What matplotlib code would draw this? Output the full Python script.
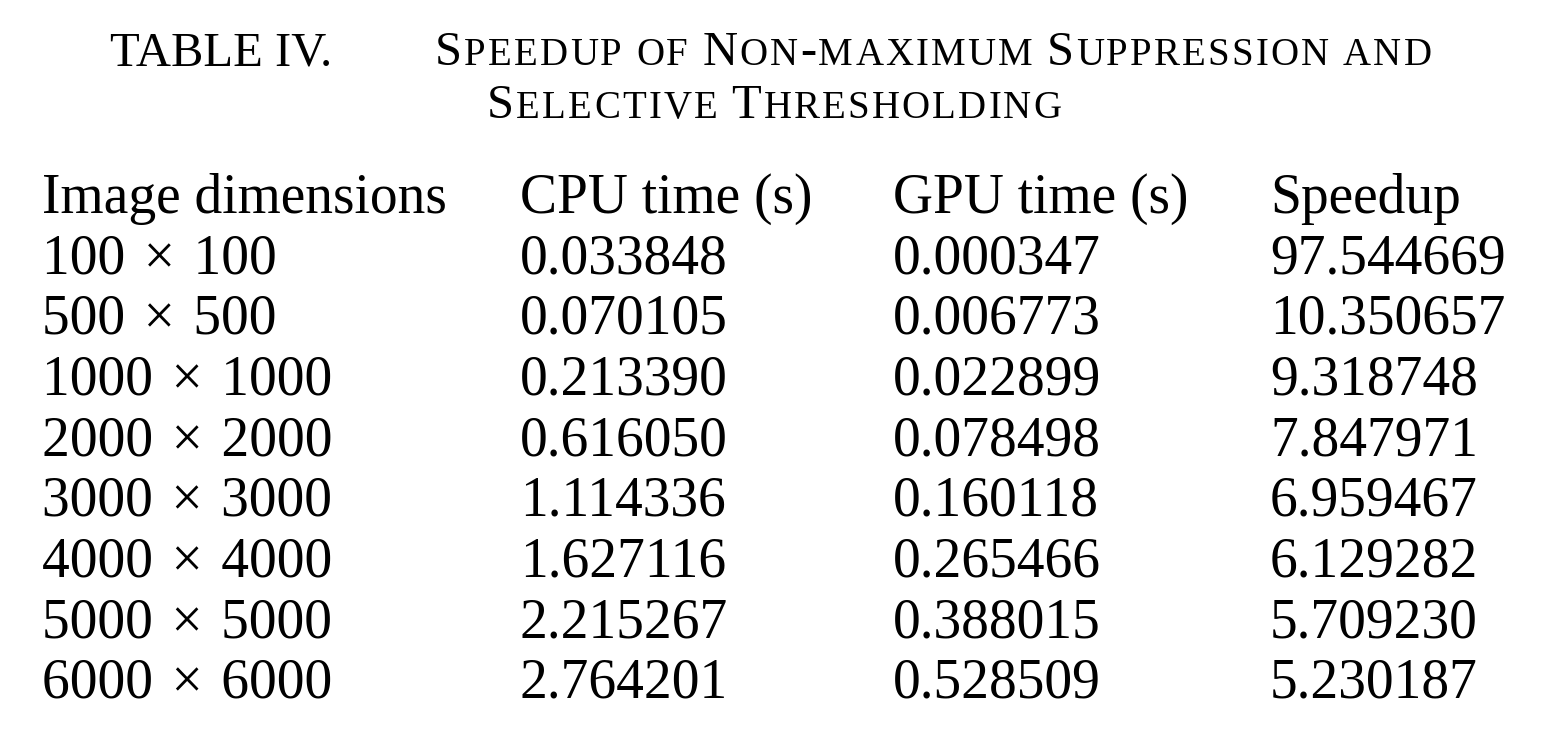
import matplotlib
matplotlib.use("Agg")
import matplotlib.pyplot as plt

W, H = 1548, 739
FONT = ["Liberation Serif", "DejaVu Serif"]

headers = ["Image dimensions", "CPU time (s)", "GPU time (s)", "Speedup"]
dims = ["100 × 100", "500 × 500", "1000 × 1000", "2000 × 2000",
        "3000 × 3000", "4000 × 4000", "5000 × 5000", "6000 × 6000"]
cpu = ["0.033848", "0.070105", "0.213390", "0.616050",
       "1.114336", "1.627116", "2.215267", "2.764201"]
gpu = ["0.000347", "0.006773", "0.022899", "0.078498",
       "0.160118", "0.265466", "0.388015", "0.528509"]
speedup = ["97.544669", "10.350657", "9.318748", "7.847971",
           "6.959467", "6.129282", "5.709230", "5.230187"]

fig = plt.figure(figsize=(W / 100, H / 100), dpi=100)
fig.patch.set_facecolor("white")
renderer = fig.canvas.get_renderer()


def small_caps(x, y, text, big=35, small=28, track=2.2):
    # small caps drawn char by char with a bit of letter spacing
    for ch in text:
        up = not ch.islower()
        if ch == " ":
            x += 12
            continue
        t = fig.text(x / W, 1 - y / H, ch.upper(),
                     fontsize=big if up else small, family=FONT, va="baseline")
        x += t.get_window_extent(renderer).width + track
    return x


fig.text(110 / W, 1 - 65 / H, "TABLE IV.", fontsize=35, family=FONT, va="baseline")
small_caps(435, 65, "Speedup of Non-maximum Suppression and")
small_caps(487, 118, "Selective Thresholding")

col_x = [42, 520, 893, 1270]
fs = 40
for cx, h in zip(col_x, headers):
    fig.text(cx / W, 1 - 213 / H, h, fontsize=fs, family=FONT, va="baseline")

for i, row in enumerate(zip(dims, cpu, gpu, speedup)):
    y = 273 + i * 60.7
    row = (row[0].replace(" × ", " \u200a×\u200a "),) + row[1:]
    for cx, val in zip(col_x, row):
        fig.text(cx / W, 1 - y / H, val, fontsize=fs, family=FONT, va="baseline")

fig.savefig("out.png", dpi=100)
